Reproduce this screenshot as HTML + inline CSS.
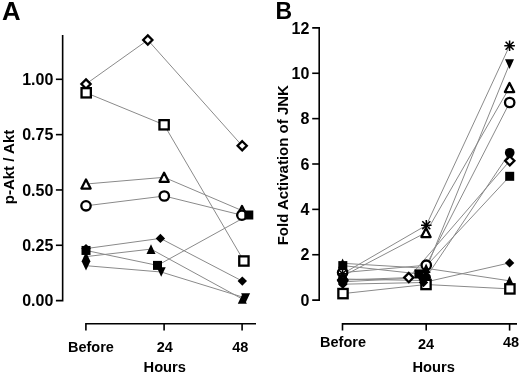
<!DOCTYPE html>
<html><head><meta charset="utf-8"><title>Akt and JNK activation</title>
<style>
html,body{margin:0;padding:0;background:#fff;}
body{width:520px;height:376px;overflow:hidden;font-family:"Liberation Sans",sans-serif;}
svg{display:block;filter:grayscale(1);}
</style></head><body>
<svg width="520" height="376" viewBox="0 0 520 376"><g stroke="#000" stroke-width="1.6" fill="none">
<path d="M62.65 35V300.6H55.9"/>
<path d="M55.9 79.30H62.65"/>
<path d="M55.9 134.62H62.65"/>
<path d="M55.9 189.95H62.65"/>
<path d="M55.9 245.28H62.65"/>
<path d="M85.9 330.6V323.8H256"/>
<path d="M164.1 323.8V330.6"/>
<path d="M242.1 323.8V330.6"/>
<path d="M312.2 27.9H319.2V300.1H312.2"/>
<path d="M312.2 73.27H319.2"/>
<path d="M312.2 118.63H319.2"/>
<path d="M312.2 164.00H319.2"/>
<path d="M312.2 209.37H319.2"/>
<path d="M312.2 254.73H319.2"/>
<path d="M342.5 330.6V323.9H517"/>
<path d="M426.2 323.9V330.6"/>
<path d="M509.6 323.9V330.6"/>
</g>
<g stroke="#8a8a8a" stroke-width="1.0" fill="none"><path d="M86.00 84.00 L147.80 40.00 L242.20 145.80"/><path d="M86.20 92.80 L164.10 124.80 L243.90 261.00"/><path d="M86.00 184.00 L164.10 177.30 L242.00 210.60"/><path d="M86.00 205.80 L164.30 196.00 L241.90 215.20"/><path d="M86.00 248.60 L160.40 238.40 L242.30 281.10"/><path d="M86.00 256.60 L151.00 249.10 L242.30 299.00"/><path d="M86.00 265.70 L161.20 272.00 L245.60 298.00"/><path d="M86.00 250.45 L157.50 265.40 L248.80 215.00"/><path d="M342.70 276.20 L426.00 232.50 L509.50 87.50"/><path d="M342.60 272.60 L426.30 265.20 L509.70 102.50"/><path d="M342.60 263.30 L426.10 268.30 L509.50 280.80"/><path d="M342.80 265.60 L418.90 273.90 L509.70 176.30"/><path d="M342.60 273.80 L426.30 225.30 L509.60 45.70"/><path d="M342.60 279.00 L421.50 280.50 L509.50 64.10"/><path d="M342.80 280.00 L408.80 277.60 L509.80 160.80"/><path d="M342.80 281.80 L426.10 277.40 L509.70 152.80"/><path d="M343.00 293.60 L426.00 284.50 L509.90 288.90"/><path d="M342.80 284.20 L423.50 282.50 L509.60 262.90"/></g>
<g><polygon points="86.00,79.40 90.60,84.00 86.00,88.60 81.40,84.00" fill="#fff" stroke="#000" stroke-width="2.3" stroke-linejoin="miter"/><polygon points="147.80,35.40 152.40,40.00 147.80,44.60 143.20,40.00" fill="#fff" stroke="#000" stroke-width="2.3" stroke-linejoin="miter"/><polygon points="242.20,141.20 246.80,145.80 242.20,150.40 237.60,145.80" fill="#fff" stroke="#000" stroke-width="2.3" stroke-linejoin="miter"/><rect x="81.55" y="88.15" width="9.30" height="9.30" fill="#fff" stroke="#000" stroke-width="2.3"/><rect x="159.45" y="120.15" width="9.30" height="9.30" fill="#fff" stroke="#000" stroke-width="2.3"/><rect x="239.25" y="256.35" width="9.30" height="9.30" fill="#fff" stroke="#000" stroke-width="2.3"/><polygon points="86.00,179.45 90.60,188.55 81.40,188.55" fill="#fff" stroke="#000" stroke-width="2.3" stroke-linejoin="round"/><polygon points="164.10,172.75 168.70,181.85 159.50,181.85" fill="#fff" stroke="#000" stroke-width="2.3" stroke-linejoin="round"/><polygon points="242.00,206.05 246.60,215.15 237.40,215.15" fill="#fff" stroke="#000" stroke-width="2.3" stroke-linejoin="round"/><circle cx="86.00" cy="205.80" r="4.7" fill="#fff" stroke="#000" stroke-width="2.3"/><circle cx="164.30" cy="196.00" r="4.7" fill="#fff" stroke="#000" stroke-width="2.3"/><circle cx="241.90" cy="215.20" r="4.7" fill="#fff" stroke="#000" stroke-width="2.3"/><polygon points="86.00,243.90 90.70,248.60 86.00,253.30 81.30,248.60" fill="#000"/><polygon points="160.40,233.70 165.10,238.40 160.40,243.10 155.70,238.40" fill="#000"/><polygon points="242.30,276.40 247.00,281.10 242.30,285.80 237.60,281.10" fill="#000"/><polygon points="86.00,251.80 90.50,261.40 81.50,261.40" fill="#000"/><polygon points="151.00,244.30 155.50,253.90 146.50,253.90" fill="#000"/><polygon points="242.30,294.20 246.80,303.80 237.80,303.80" fill="#000"/><polygon points="86.00,270.50 90.50,260.90 81.50,260.90" fill="#000"/><polygon points="161.20,276.80 165.70,267.20 156.70,267.20" fill="#000"/><polygon points="245.60,302.80 250.10,293.20 241.10,293.20" fill="#000"/><rect x="81.50" y="245.95" width="9.00" height="9.00" fill="#000"/><rect x="153.00" y="260.90" width="9.00" height="9.00" fill="#000"/><rect x="244.30" y="210.50" width="9.00" height="9.00" fill="#000"/><polygon points="342.70,271.65 347.30,280.75 338.10,280.75" fill="#fff" stroke="#000" stroke-width="2.3" stroke-linejoin="round"/><polygon points="426.00,227.95 430.60,237.05 421.40,237.05" fill="#fff" stroke="#000" stroke-width="2.3" stroke-linejoin="round"/><polygon points="509.50,82.95 514.10,92.05 504.90,92.05" fill="#fff" stroke="#000" stroke-width="2.3" stroke-linejoin="round"/><circle cx="342.60" cy="272.60" r="4.7" fill="#fff" stroke="#000" stroke-width="2.3"/><circle cx="426.30" cy="265.20" r="4.7" fill="#fff" stroke="#000" stroke-width="2.3"/><circle cx="509.70" cy="102.50" r="4.7" fill="#fff" stroke="#000" stroke-width="2.3"/><polygon points="342.60,258.50 347.10,268.10 338.10,268.10" fill="#000"/><polygon points="426.10,263.50 430.60,273.10 421.60,273.10" fill="#000"/><polygon points="509.50,276.00 514.00,285.60 505.00,285.60" fill="#000"/><rect x="338.30" y="261.10" width="9.00" height="9.00" fill="#000"/><rect x="414.40" y="269.40" width="9.00" height="9.00" fill="#000"/><rect x="505.20" y="171.80" width="9.00" height="9.00" fill="#000"/><path d="M337.30 273.80H347.90M342.60 268.50V279.10M338.60 269.80L346.60 277.80M338.60 277.80L346.60 269.80" stroke="#000" stroke-width="1.5" fill="none"/><circle cx="342.60" cy="273.80" r="1.6" fill="#000"/><path d="M421.00 225.30H431.60M426.30 220.00V230.60M422.30 221.30L430.30 229.30M422.30 229.30L430.30 221.30" stroke="#000" stroke-width="1.5" fill="none"/><circle cx="426.30" cy="225.30" r="1.6" fill="#000"/><path d="M504.30 45.70H514.90M509.60 40.40V51.00M505.60 41.70L513.60 49.70M505.60 49.70L513.60 41.70" stroke="#000" stroke-width="1.5" fill="none"/><circle cx="509.60" cy="45.70" r="1.6" fill="#000"/><polygon points="342.60,283.80 347.10,274.20 338.10,274.20" fill="#000"/><polygon points="421.50,285.30 426.00,275.70 417.00,275.70" fill="#000"/><polygon points="509.50,68.90 514.00,59.30 505.00,59.30" fill="#000"/><polygon points="342.80,275.40 347.40,280.00 342.80,284.60 338.20,280.00" fill="#fff" stroke="#000" stroke-width="2.3" stroke-linejoin="miter"/><polygon points="408.80,273.00 413.40,277.60 408.80,282.20 404.20,277.60" fill="#fff" stroke="#000" stroke-width="2.3" stroke-linejoin="miter"/><polygon points="509.80,156.20 514.40,160.80 509.80,165.40 505.20,160.80" fill="#fff" stroke="#000" stroke-width="2.3" stroke-linejoin="miter"/><circle cx="342.80" cy="281.80" r="4.85" fill="#000"/><circle cx="426.10" cy="277.40" r="4.85" fill="#000"/><circle cx="509.70" cy="152.80" r="4.85" fill="#000"/><rect x="338.35" y="288.95" width="9.30" height="9.30" fill="#fff" stroke="#000" stroke-width="2.3"/><rect x="421.35" y="279.85" width="9.30" height="9.30" fill="#fff" stroke="#000" stroke-width="2.3"/><rect x="505.25" y="284.25" width="9.30" height="9.30" fill="#fff" stroke="#000" stroke-width="2.3"/><polygon points="342.80,279.50 347.50,284.20 342.80,288.90 338.10,284.20" fill="#000"/><polygon points="423.50,277.80 428.20,282.50 423.50,287.20 418.80,282.50" fill="#000"/><polygon points="509.60,258.20 514.30,262.90 509.60,267.60 504.90,262.90" fill="#000"/></g>
<g font-family='"Liberation Sans", sans-serif' font-weight="bold" fill="#000"><text transform="translate(1.9 20) scale(1.03 1)" font-size="25">A</text><text transform="translate(275.4 19.4) scale(0.92 0.98)" font-size="25">B</text><text x="53.3" y="85.00" font-size="16" text-anchor="end" >1.00</text><text x="53.3" y="140.32" font-size="16" text-anchor="end" >0.75</text><text x="53.3" y="195.65" font-size="16" text-anchor="end" >0.50</text><text x="53.3" y="250.98" font-size="16" text-anchor="end" >0.25</text><text x="53.3" y="306.30" font-size="16" text-anchor="end" >0.00</text><text x="309.4" y="33.60" font-size="16" text-anchor="end" >12</text><text x="309.4" y="78.97" font-size="16" text-anchor="end" >10</text><text x="309.4" y="124.33" font-size="16" text-anchor="end" >8</text><text x="309.4" y="169.70" font-size="16" text-anchor="end" >6</text><text x="309.4" y="215.07" font-size="16" text-anchor="end" >4</text><text x="309.4" y="260.43" font-size="16" text-anchor="end" >2</text><text x="309.4" y="305.80" font-size="16" text-anchor="end" >0</text><text x="90.9" y="352.3" font-size="14.5" text-anchor="middle" >Before</text><text x="164.8" y="352.3" font-size="14.5" text-anchor="middle" >24</text><text x="240.2" y="352.3" font-size="14.5" text-anchor="middle" >48</text><text x="164.75" y="371.6" font-size="14.7" text-anchor="middle" >Hours</text><text x="343" y="347.3" font-size="14.5" text-anchor="middle" >Before</text><text x="426" y="348.6" font-size="14.5" text-anchor="middle" >24</text><text x="511" y="347.3" font-size="14.5" text-anchor="middle" >48</text><text x="433.6" y="371.8" font-size="14.7" text-anchor="middle" >Hours</text><text transform="translate(13.6 167) rotate(-90)" font-size="15" text-anchor="middle">p-Akt / Akt</text><text transform="translate(288.1 165.2) rotate(-90)" font-size="15" text-anchor="middle">Fold Activation of JNK</text></g></svg>
</body></html>
